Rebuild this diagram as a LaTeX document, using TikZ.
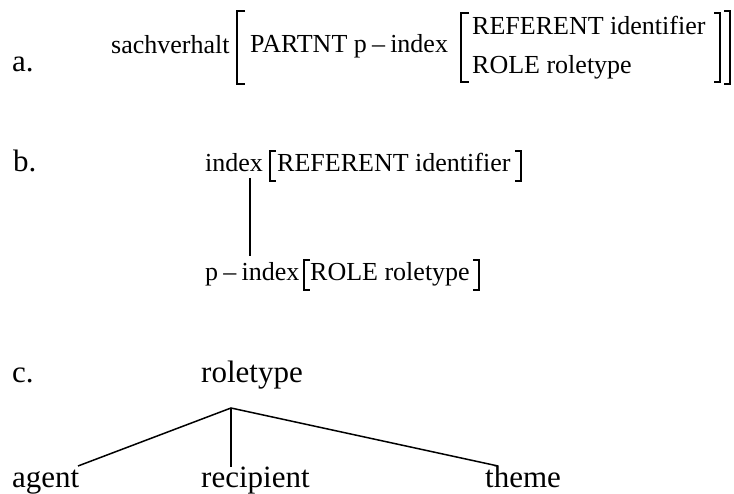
\documentclass[tikz,border=0pt]{standalone}
\usepackage{fontspec}
\setmainfont{Liberation Serif}
\begin{document}
\begin{tikzpicture}[x=1pt,y=-1pt,
  lbl/.style={inner sep=0pt, anchor=base west, font=\fontsize{31}{36}\selectfont},
  sm/.style={inner sep=0pt, anchor=base west, font=\fontsize{26}{30}\selectfont},
  brk/.style={line width=1.2pt, line cap=butt},
  edge/.style={line width=1.5pt}]
\useasboundingbox (0,0) rectangle (734,494);

% ---- (a) attribute-value matrix
\node[lbl] (la) at (12,72) {a.};
\node[sm] (sach) at (111,54) {sachverhalt};
\node[sm] (partnt) at (250,53) {PARTNT p\hspace{0.2em}–\hspace{0.2em}index};
\node[sm] (ref) at (472,35) {REFERENT identifier};
\node[sm] (role) at (472,74) {ROLE roletype};
% outer brackets
\draw[brk] (245,11) -- (237,11) -- (237,84) -- (245,84);
\draw[brk] (724,11) -- (730,11) -- (730,84) -- (724,84);
% inner brackets
\draw[brk] (469,13) -- (461,13) -- (461,82) -- (469,82);
\draw[brk] (714,13) -- (720,13) -- (720,82) -- (714,82);

% ---- (b) index hierarchy
\node[lbl] (lb) at (13,172) {b.};
\node[sm] (idx) at (205,172) {index};
\node[sm] (idxv) at (277,172) {REFERENT identifier};
\draw[brk] (276,151) -- (270,151) -- (270,181) -- (276,181);
\draw[brk] (515,151) -- (521,151) -- (521,181) -- (515,181);
\node[sm] (pidx) at (205,281) {p\hspace{0.2em}–\hspace{0.2em}index};
\node[sm] (pidxv) at (310,281) {ROLE roletype};
\draw[brk] (310,260) -- (304,260) -- (304,290) -- (310,290);
\draw[brk] (473,260) -- (479,260) -- (479,290) -- (473,290);
\coordinate (btop) at (250,178);
\coordinate (bbot) at (250,256);
\draw[edge, line width=1.3pt] (btop) -- (bbot);

% ---- (c) roletype tree
\node[lbl] (lc) at (12,383) {c.};
\node[lbl] (rt) at (201,383) {roletype};
\node[lbl] (agent) at (12,487) {agent};
\node[lbl] (recip) at (201,487) {recipient};
\node[lbl] (theme) at (485,487) {theme};
\coordinate (apex) at (231,408);
\coordinate (ea) at (78,466);
\coordinate (er) at (231,467);
\coordinate (et) at (498,466);
\draw[edge] (ea) -- (apex) -- (et);
\draw[edge] (apex) -- (er);
\end{tikzpicture}
\end{document}
